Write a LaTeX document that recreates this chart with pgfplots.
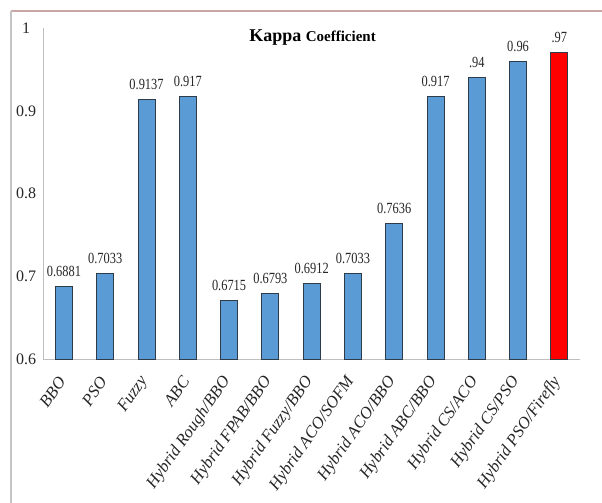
\documentclass[border=0pt]{standalone}
\usepackage{fontspec}
\setmainfont{Liberation Serif}
\newfontfamily\valuefont{Liberation Serif}[FakeStretch=0.8]
\usepackage{pgfplots}
\pgfplotsset{compat=1.18}
\usepackage{pgfplotstable}

\definecolor{barblue}{HTML}{5B9BD5}
\definecolor{barred}{HTML}{FF0000}
\definecolor{baredge}{HTML}{2E3B48}
\definecolor{axisgray}{HTML}{BFBFBF}
\definecolor{frametop}{HTML}{C9A7A7}
\definecolor{frameleft}{HTML}{C4C4C4}

% Kappa coefficient of each method (position, value, printed label)
\pgfplotstableread[col sep=comma]{
x,kappa,label
0,0.6881,0.6881
1,0.7033,0.7033
2,0.9137,0.9137
3,0.917,0.917
4,0.6715,0.6715
5,0.6793,0.6793
6,0.6912,0.6912
7,0.7033,0.7033
8,0.7636,0.7636
9,0.917,0.917
10,0.94,.94
11,0.96,0.96
}\kappatable

% best method, highlighted in red
\pgfplotstableread[col sep=comma]{
x,kappa,label
12,0.97,.97
}\besttable

\begin{document}
\begin{tikzpicture}
\useasboundingbox (0,0) rectangle (602pt,503pt);
% page frame
\draw[frametop, line width=1.5pt] (11pt,492pt) -- (602pt,492pt);
\draw[frameleft, line width=1.5pt] (11pt,492pt) -- (11pt,0pt);

\begin{axis}[
  at={(43.3pt,143.5pt)}, anchor=south west,
  scale only axis,
  width=536.7pt, height=331.5pt,
  xmin=-0.5, xmax=12.5,
  ymin=0.6, ymax=1,
  axis lines=left,
  axis line style={-, axisgray, line width=1.2pt},
  tick style={draw=none},
  ytick={0.6,0.7,0.8,0.9,1},
  yticklabels={0.6,0.7,0.8,0.9,1},
  yticklabel style={font=\fontsize{16}{16}\selectfont, text=black!85, anchor=center, xshift=-15pt},
  xtick={0,...,12},
  xticklabels={BBO,PSO,Fuzzy,ABC,Hybrid Rough/BBO,Hybrid FPAB/BBO,Hybrid Fuzzy/BBO,Hybrid ACO/SOFM,Hybrid ACO/BBO,Hybrid ABC/BBO,Hybrid CS/ACO,Hybrid CS/PSO,Hybrid PSO/Firefly},
  xticklabel style={font=\fontsize{16.8}{16.8}\selectfont\itshape, text=black!85, rotate=55, anchor=east},
  xticklabel shift={12pt},
  title={\bfseries\fontsize{18}{20}\selectfont Kappa \fontsize{15}{18}\selectfont Coefficient},
  title style={at={(0.5016,0.94)}, anchor=base},
  ybar, bar width=17pt, bar shift=0pt,
  nodes near coords,
  point meta=explicit symbolic,
  every node near coord/.append style={font=\valuefont\fontsize{15.5}{15}\selectfont, text=black!85, anchor=south, yshift=6pt},
  clip=false,
]
\addplot[fill=barblue, draw=baredge, line width=1pt] table[x=x, y=kappa, meta=label] {\kappatable};
\addplot[fill=barred, draw=baredge, line width=1pt] table[x=x, y=kappa, meta=label] {\besttable};
\end{axis}
\end{tikzpicture}
\end{document}
